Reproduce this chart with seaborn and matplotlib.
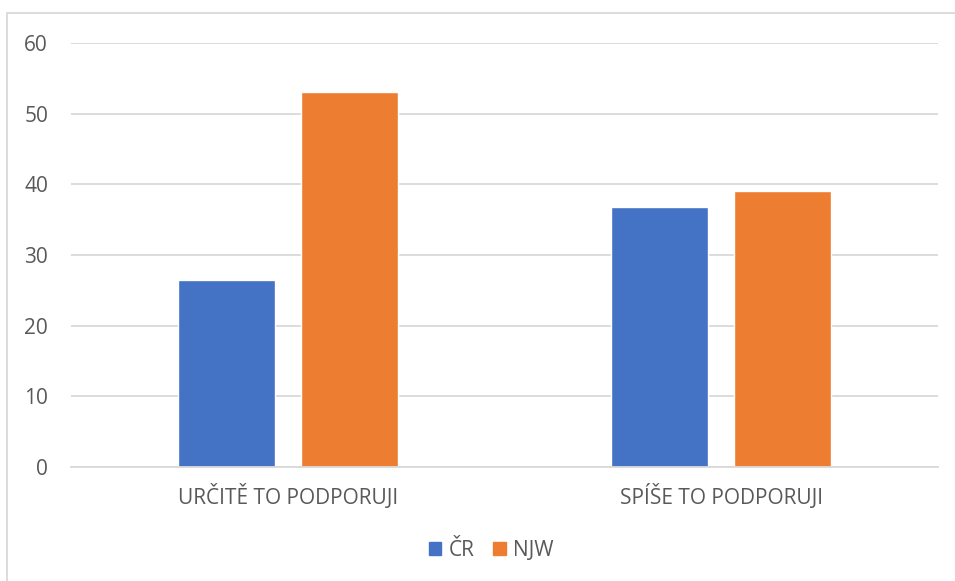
import matplotlib
matplotlib.use("Agg")
import matplotlib.pyplot as plt
from matplotlib.patches import Rectangle
import seaborn as sns
import pandas as pd

categories = ["URČITĚ TO PODPORUJI", "SPÍŠE TO PODPORUJI"]
series_names = ["ČR", "NJW"]
values_cr = [26.4, 36.8]
values_njw = [53.0, 39.0]
y_ticks = [0, 10, 20, 30, 40, 50, 60]

df = pd.DataFrame({
    "kategorie": categories * 2,
    "skupina": [series_names[0]] * 2 + [series_names[1]] * 2,
    "hodnota": values_cr + values_njw,
})

sns.set_theme(style="white")
plt.rcParams["font.family"] = ["Open Sans", "DejaVu Sans"]

TEXT = "#595959"
GRID = "#d9d9d9"
palette = {"ČR": "#4472C4", "NJW": "#ED7D31"}
FS = 15

W, H = 955, 581
fig = plt.figure(figsize=(W / 100, H / 100), dpi=100)
ax = fig.add_axes([71 / W, (H - 467) / H, (938 - 71) / W, (467 - 43) / H])

sns.barplot(data=df, x="kategorie", y="hodnota", hue="skupina",
            palette=palette, width=0.5675, gap=0.211, ax=ax,
            saturation=1, legend=False, errorbar=None)

ax.set_xlim(-0.5, 1.5)
ax.set_ylim(0, 60)
ax.set_yticks(y_ticks)
ax.set_yticklabels([str(t) for t in y_ticks])
ax.grid(axis="y", color=GRID, linewidth=1.3)
ax.set_axisbelow(True)
for s in ["top", "right", "left"]:
    ax.spines[s].set_visible(False)
ax.spines["bottom"].set_color(GRID)
ax.spines["bottom"].set_linewidth(1.3)
ax.tick_params(axis="both", length=0, labelsize=FS, colors=TEXT)
ax.tick_params(axis="y", pad=16.5)
ax.tick_params(axis="x", pad=12)
ax.set_xlabel("")
ax.set_ylabel("")

# chart frame
fig.patches.append(Rectangle((7 / W, -0.1), 1.2, (H - 13) / H + 0.1,
                             transform=fig.transFigure, fill=False,
                             edgecolor=GRID, linewidth=1.3))

# legend
handles = [Rectangle((0, 0), 1, 1, color=palette[n]) for n in series_names]
fig.legend(handles, series_names, loc="center", bbox_to_anchor=(491 / W, 1 - 550 / H),
           ncol=2, frameon=False, fontsize=FS, labelcolor=TEXT,
           handlelength=0.6, handleheight=0.6, handletextpad=0.35, columnspacing=0.9)

fig.savefig("out.png", dpi=100)
